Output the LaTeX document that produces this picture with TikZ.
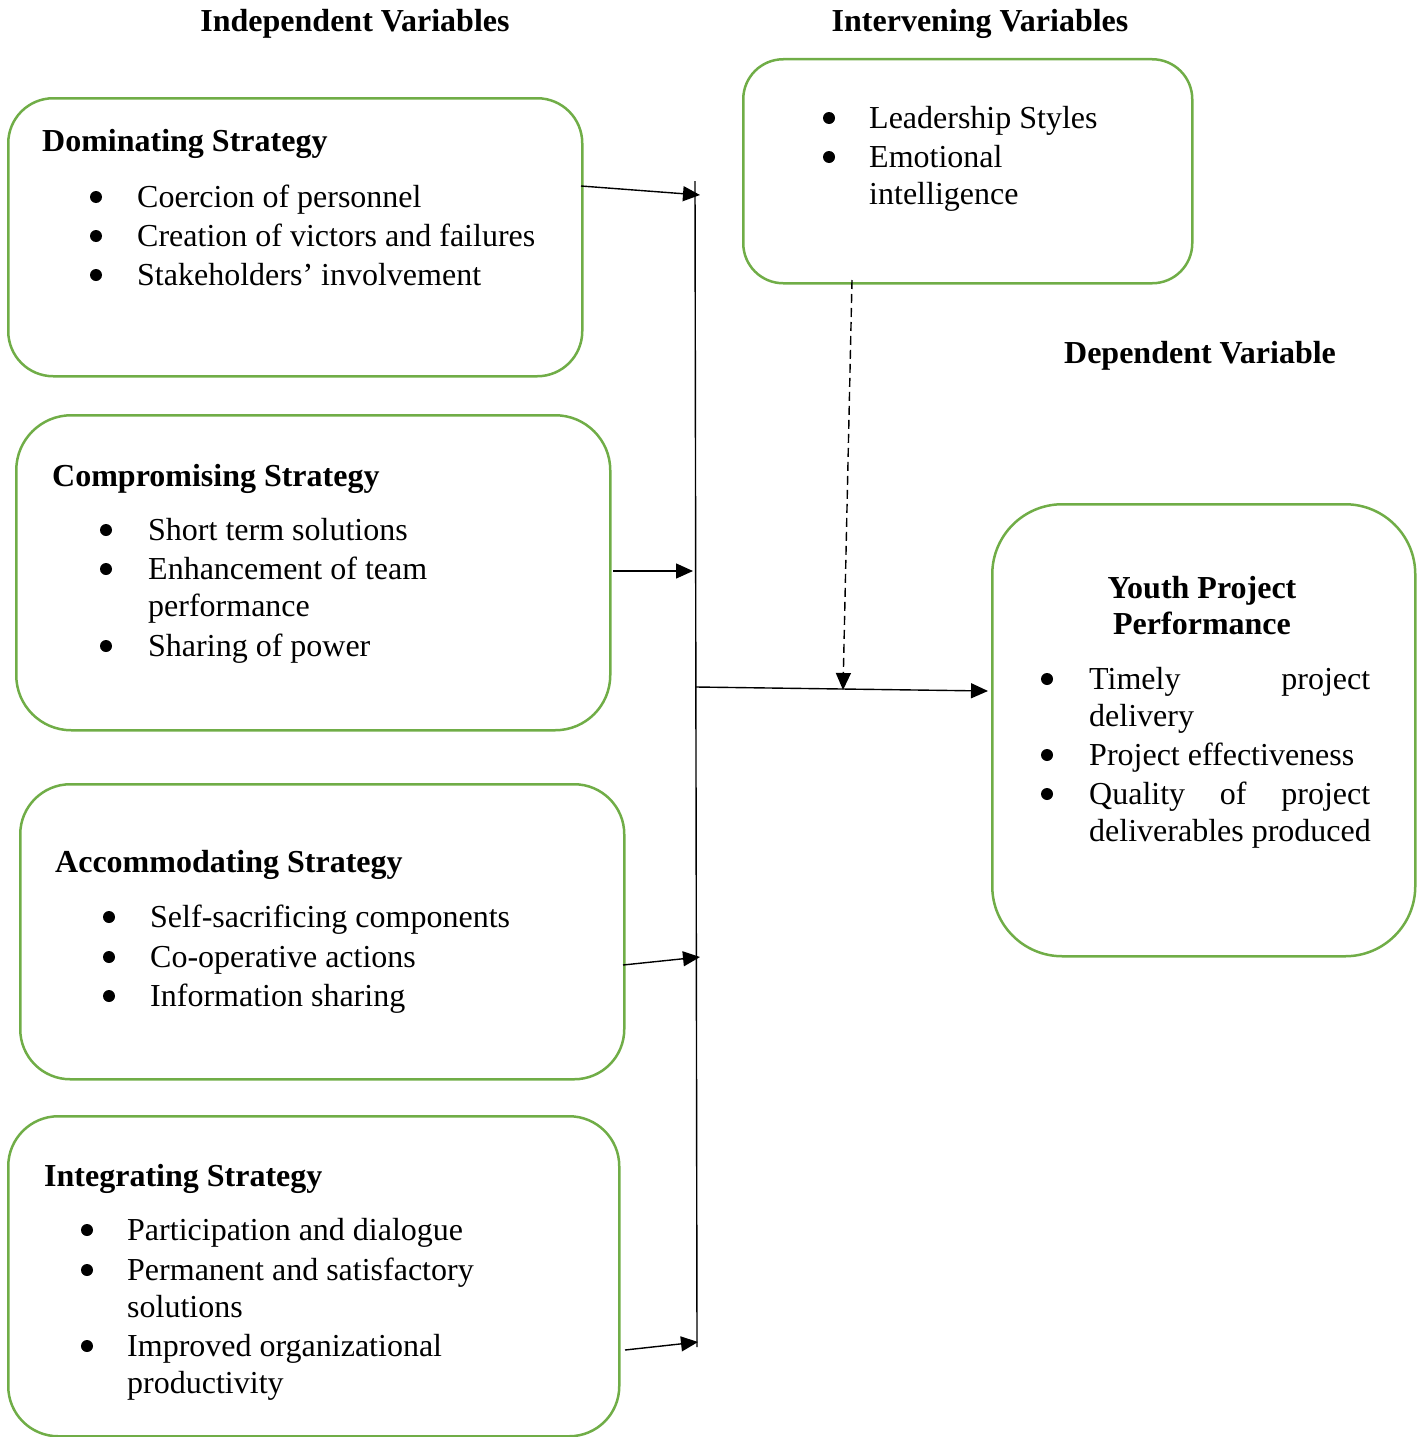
\documentclass[tikz,border=0pt]{standalone}
\usepackage{fontspec}
\setmainfont{Liberation Serif}
\usetikzlibrary{arrows.meta}
\definecolor{boxgreen}{RGB}{112,173,71}
\tikzset{
  gbox/.style={draw=boxgreen, line width=2.5pt, rounded corners=#1, anchor=north west, inner sep=0pt},
  txt/.style={anchor=base west, inner sep=0pt, font=\fontsize{32}{38}\selectfont},
  ttl/.style={anchor=base west, inner sep=0pt, font=\fontsize{32}{38}\selectfont\bfseries},
  hd/.style={anchor=base, inner sep=0pt, font=\fontsize{32}{38}\selectfont\bfseries},
  bul/.style={anchor=center, inner sep=0pt, circle, fill=black, minimum size=12pt},
  arr/.style={line width=1.4pt, -{Triangle[length=17pt,width=15pt]}},
  ln/.style={line width=1.4pt},
}
\begin{document}
\begin{tikzpicture}[x=1pt,y=-1pt]
\useasboundingbox (0,0) rectangle (1421,1437);
% headings
\node[hd] (h1) at (355,32) {Independent Variables};
\node[hd] (h2) at (980,32) {Intervening Variables};
\node[hd] (h3) at (1200,363) {Dependent Variable};
% boxes
\node[gbox=45pt, minimum width=574pt, minimum height=278pt] (b1) at (7,97) {};
\node[gbox=55pt, minimum width=594pt, minimum height=315pt] (b2) at (15,414) {};
\node[gbox=50pt, minimum width=604pt, minimum height=295pt] (b3) at (19,783) {};
\node[gbox=50pt, minimum width=611pt, minimum height=320pt] (b4) at (7,1115) {};
\node[gbox=40pt, minimum width=449pt, minimum height=224pt] (b5) at (742,58) {};
\node[gbox=70pt, minimum width=423pt, minimum height=452pt] (b6) at (991,503) {};
% box 1
\node[ttl] (t1) at (42,151) {Dominating Strategy};
\foreach \y/\t [count=\i] in {197/Coercion of personnel,236/Creation of victors and failures,275/Stakeholders’ involvement}{
  \node[bul] (b1d\i) at (96,\y) {};
  \node[txt] (b1t\i) at (137,\y+10) {\t};
}
% box 2
\node[ttl] (t2) at (52,486) {Compromising Strategy};
\foreach \y/\t [count=\i] in {530/Short term solutions,569/Enhancement of team,646/Sharing of power}{
  \node[bul] (b2d\i) at (106,\y) {};
  \node[txt] (b2t\i) at (148,\y+10) {\t};
}
\node[txt] (b2t4) at (148,616) {performance};
% box 3
\node[ttl] (t3) at (55,872) {Accommodating Strategy};
\foreach \y/\t [count=\i] in {917/Self-sacrificing components,957/Co-operative actions,996/Information sharing}{
  \node[bul] (b3d\i) at (109,\y) {};
  \node[txt] (b3t\i) at (150,\y+10) {\t};
}
% box 4
\node[ttl] (t4) at (44,1186) {Integrating Strategy};
\foreach \y/\t [count=\i] in {1230/Participation and dialogue,1270/Permanent and satisfactory,1346/Improved organizational}{
  \node[bul] (b4d\i) at (87,\y) {};
  \node[txt] (b4t\i) at (127,\y+10) {\t};
}
\node[txt] (b4t4) at (127,1317) {solutions};
\node[txt] (b4t5) at (127,1393) {productivity};
% box 5
\node[bul] (b5d1) at (829,118) {};
\node[txt] (b5t1) at (869,128) {Leadership Styles};
\node[bul] (b5d2) at (829,157) {};
\node[txt] (b5t2) at (869,167) {Emotional};
\node[txt] (b5t3) at (869,204) {intelligence};
% box 6
\node[hd] (t6a) at (1202,598) {Youth Project};
\node[hd] (t6b) at (1202,634) {Performance};
\node[bul] (b6d1) at (1047,679) {};
\node[txt] (b6t1) at (1089,689) {\makebox[281pt][s]{Timely project}};
\node[txt] (b6t2) at (1089,726) {delivery};
\node[bul] (b6d2) at (1047,755) {};
\node[txt] (b6t3) at (1089,765) {Project effectiveness};
\node[bul] (b6d3) at (1047,794) {};
\node[txt] (b6t4) at (1089,804) {\makebox[281pt][s]{Quality of project}};
\node[txt] (b6t5) at (1089,841) {deliverables produced};
% connectors
\coordinate (vt) at (695,181);
\coordinate (vb) at (697,1347);
\draw[ln] (vt) -- (vb);
\coordinate (a1s) at (581,186); \coordinate (a1e) at (700,195);
\coordinate (a2s) at (613,571); \coordinate (a2e) at (693,571);
\coordinate (a3s) at (623,965); \coordinate (a3e) at (700,957);
\coordinate (a4s) at (625,1350); \coordinate (a4e) at (698,1342);
\draw[arr] (a1s) -- (a1e);
\draw[arr] (a2s) -- (a2e);
\draw[arr] (a3s) -- (a3e);
\draw[arr] (a4s) -- (a4e);
\coordinate (hs) at (696,687); \coordinate (he) at (988,691);
\draw[arr] (hs) -- (he);
\coordinate (ds) at (852,280); \coordinate (de) at (843,690);
\draw[arr, dash pattern=on 9pt off 5pt] (ds) -- (de);
\end{tikzpicture}
\end{document}
